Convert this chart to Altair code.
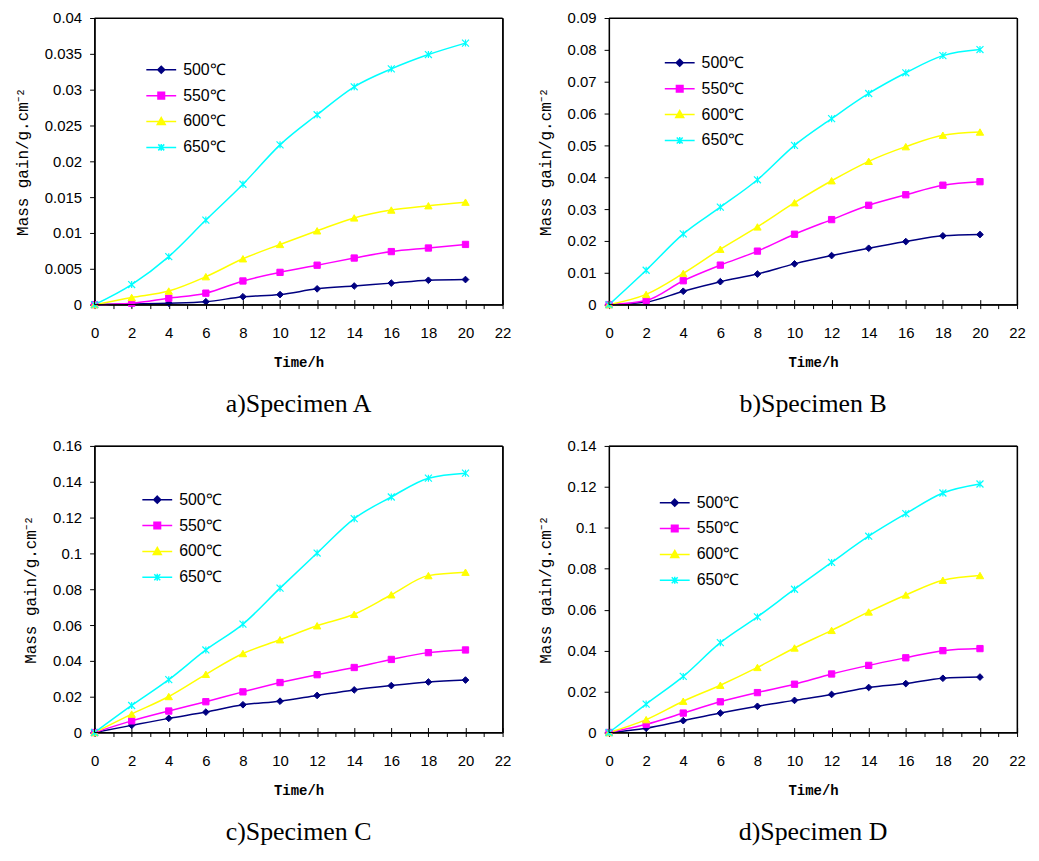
import altair as alt
import pandas as pd

hours = [0, 2, 4, 6, 8, 10, 12, 14, 16, 18, 20]
series = ["500℃", "550℃", "600℃", "650℃"]
colors = ["#000080", "#FF00FF", "#FFFF00", "#00FFFF"]

# Specimen A
a_500 = [0, 0.0001, 0.0002, 0.0004, 0.0011, 0.0014, 0.0022, 0.0026, 0.0030, 0.0034, 0.0035]
a_550 = [0, 0.0002, 0.0009, 0.0016, 0.0033, 0.0045, 0.0055, 0.0065, 0.0074, 0.0079, 0.0084]
a_600 = [0, 0.0010, 0.0019, 0.0039, 0.0064, 0.0084, 0.0103, 0.0121, 0.0132, 0.0138, 0.0143]
a_650 = [0, 0.0028, 0.0067, 0.0118, 0.0168, 0.0223, 0.0265, 0.0304, 0.0329, 0.0349, 0.0365]
# Specimen B
b_500 = [0, 0.0008, 0.0042, 0.0072, 0.0096, 0.0128, 0.0154, 0.0177, 0.0198, 0.0216, 0.0220]
b_550 = [0, 0.0013, 0.0075, 0.0124, 0.0168, 0.0221, 0.0267, 0.0312, 0.0345, 0.0375, 0.0386]
b_600 = [0, 0.0032, 0.0098, 0.0174, 0.0244, 0.0320, 0.0389, 0.0450, 0.0496, 0.0532, 0.0542]
b_650 = [0, 0.0108, 0.0222, 0.0306, 0.0392, 0.0500, 0.0584, 0.0663, 0.0728, 0.0782, 0.0801]
# Specimen C
c_500 = [0, 0.0040, 0.0079, 0.0114, 0.0155, 0.0175, 0.0207, 0.0238, 0.0262, 0.0282, 0.0293]
c_550 = [0, 0.0065, 0.0120, 0.0172, 0.0227, 0.0279, 0.0323, 0.0363, 0.0408, 0.0446, 0.0461]
c_600 = [0, 0.0103, 0.0201, 0.0325, 0.0441, 0.0518, 0.0596, 0.0660, 0.0769, 0.0876, 0.0895]
c_650 = [0, 0.0151, 0.0295, 0.0461, 0.0605, 0.0806, 0.1002, 0.1194, 0.1315, 0.1420, 0.1448]
# Specimen D
d_500 = [0, 0.0021, 0.0058, 0.0095, 0.0128, 0.0157, 0.0186, 0.0220, 0.0239, 0.0265, 0.0271]
d_550 = [0, 0.0040, 0.0095, 0.0150, 0.0195, 0.0236, 0.0286, 0.0328, 0.0365, 0.0400, 0.0410]
d_600 = [0, 0.0063, 0.0153, 0.0231, 0.0318, 0.0413, 0.0499, 0.0589, 0.0672, 0.0744, 0.0767]
d_650 = [0, 0.0139, 0.0274, 0.0439, 0.0565, 0.0700, 0.0831, 0.0959, 0.1069, 0.1170, 0.1214]

x_ticks = list(range(0, 23))
x_major = [0, 2, 4, 6, 8, 10, 12, 14, 16, 18, 20, 22]
a_ticks = [0, 0.005, 0.01, 0.015, 0.02, 0.025, 0.03, 0.035, 0.04]
b_ticks = [0, 0.01, 0.02, 0.03, 0.04, 0.05, 0.06, 0.07, 0.08, 0.09]
c_ticks = [0, 0.02, 0.04, 0.06, 0.08, 0.1, 0.12, 0.14, 0.16]
d_ticks = [0, 0.02, 0.04, 0.06, 0.08, 0.1, 0.12, 0.14]

titles = ["a)Specimen A", "b)Specimen B", "c)Specimen C", "d)Specimen D"]

W, H = 410, 288

point_shapes = ["diamond", "square", "triangle-up", "M-1,-1L1,1M-1,1L1,-1M0,-1L0,1"]
point_sizes = [45, 40, 55, 49]
point_filled = [True, True, True, False]
legend_paths = [
    "M-1.5,0L1.5,0M0,-0.35L0.35,0L0,0.35L-0.35,0Z",
    "M-1.5,0L1.5,0M-0.33,-0.33L0.33,-0.33L0.33,0.33L-0.33,0.33Z",
    "M-1.5,0L1.5,0M0,-0.4L0.4,0.3L-0.4,0.3Z",
    "M-1.5,0L1.5,0M-0.3,-0.3L0.3,0.3M-0.3,0.3L0.3,-0.3M0,-0.35L0,0.35",
]


def panel(vals, ymax, yticks, title, lx, ly):
    rows = []
    for s, v in zip(series, vals):
        for h, m in zip(hours, v):
            rows.append({"t": h, "m": m, "s": s})
    df = pd.DataFrame(rows)
    base = alt.Chart(df)
    xs = alt.Scale(domain=[0, 22], nice=False, zero=True)
    ys = alt.Scale(domain=[0, ymax], nice=False)

    x_axis = alt.Axis(
        values=x_ticks,
        labelExpr="datum.value % 2 == 0 ? datum.label : ''",
        title="Time/h",
        grid=False,
        tickSize=4,
        tickColor="black",
        domainColor="black",
        labelFont="Liberation Sans",
        labelFontSize=15,
        labelColor="black",
        labelPadding=17,
        labelFlush=False,
        labelOverlap=False,
        titleFont="Liberation Mono",
        titleFontSize=14,
        titleFontWeight="bold",
        titleColor="black",
        titlePadding=15,
    )
    y_axis = alt.Axis(
        values=yticks,
        format="~g",
        title="Mass gain/g.cm⁻²",
        grid=False,
        tickSize=5,
        tickColor="black",
        domainColor="black",
        labelFont="Liberation Sans",
        labelFontSize=15,
        labelColor="black",
        labelPadding=8,
        labelFlush=False,
        labelOverlap=False,
        titleFont="Liberation Mono",
        titleFontSize=16,
        titleFontWeight="normal",
        titleColor="black",
        titlePadding=14,
    )
    inside_axis = alt.Axis(
        orient="top",
        offset=-H,
        values=x_major,
        labels=False,
        domain=False,
        grid=False,
        tickSize=5,
        tickColor="black",
        title=None,
    )
    top_border = alt.Axis(orient="top", labels=False, ticks=False, grid=False,
                          domain=True, domainColor="black", title=None)
    right_border = alt.Axis(orient="right", labels=False, ticks=False, grid=False,
                            domain=True, domainColor="black", title=None)

    layers = []
    # one line per temperature
    for i, s in enumerate(series):
        xa = x_axis if i == 0 else (top_border if i == 1 else None)
        ya = y_axis if i == 0 else (right_border if i == 1 else None)
        layers.append(
            base.transform_filter(alt.datum.s == s)
            .mark_line(interpolate="monotone", strokeWidth=1.5, color=colors[i])
            .encode(
                x=alt.X("t:Q", scale=xs, axis=xa),
                y=alt.Y("m:Q", scale=ys, axis=ya),
            )
        )
    # markers
    for i, s in enumerate(series):
        if point_filled[i]:
            mk = base.transform_filter(alt.datum.s == s).mark_point(
                shape=point_shapes[i], size=point_sizes[i], filled=True,
                fill=colors[i], stroke=colors[i], strokeWidth=1, opacity=1)
        else:
            mk = base.transform_filter(alt.datum.s == s).mark_point(
                shape=point_shapes[i], size=point_sizes[i], filled=False,
                stroke=colors[i], strokeWidth=1.2, opacity=1)
        layers.append(mk.encode(
            x=alt.X("t:Q", scale=xs, axis=inside_axis if i == 0 else None),
            y=alt.Y("m:Q", scale=ys, axis=None),
        ))

    leg = alt.Legend(
        orient="none", legendX=lx, legendY=ly, title=None,
        symbolSize=400, labelOffset=11, rowPadding=7,
        symbolStrokeWidth=1.5, symbolOpacity=1,
        labelFont="Liberation Sans", labelFontSize=16, labelColor="black",
    )
    # legend-only layer: one row per series, placed below the plot and clipped away
    legend_layer = base.transform_filter(alt.datum.t == 0).transform_calculate(
        off="-1").mark_point(filled=True, strokeWidth=1.5, clip=True, opacity=1).encode(
        x=alt.X("t:Q", scale=xs, axis=None),
        y=alt.Y("off:Q", scale=ys, axis=None),
        fill=alt.Fill("s:N", scale=alt.Scale(domain=series, range=colors), legend=leg),
        stroke=alt.Stroke("s:N", scale=alt.Scale(domain=series, range=colors), legend=leg),
        shape=alt.Shape("s:N", scale=alt.Scale(domain=series, range=legend_paths), legend=leg),
    )
    layers.append(legend_layer)

    # plot frame drawn through the scales (full domain box)
    frame = base.transform_filter(
        (alt.datum.t == 0) & (alt.datum.s == series[0])
    ).mark_rect(filled=False, stroke="black", strokeWidth=1, fillOpacity=0).encode(
        x=alt.X(datum=0, scale=xs, axis=None),
        x2=alt.X2(datum=22),
        y=alt.Y(datum=0, scale=ys, axis=None),
        y2=alt.Y2(datum=ymax),
    )
    layers.append(frame)

    return alt.layer(*layers).resolve_axis(x="independent", y="independent").properties(
        width=W, height=H,
        view=alt.ViewBackground(stroke="black", strokeWidth=1),
        title=alt.TitleParams(text=title, orient="bottom", font="Liberation Serif",
                              fontSize=26, fontWeight="normal", color="black", offset=22),
    )


pa = panel([a_500, a_550, a_600, a_650], 0.04, a_ticks, titles[0], 56, 41)
pb = panel([b_500, b_550, b_600, b_650], 0.09, b_ticks, titles[1], 60, 34)
pc = panel([c_500, c_550, c_600, c_650], 0.16, c_ticks, titles[2], 52, 43)
pd_ = panel([d_500, d_550, d_600, d_650], 0.14, d_ticks, titles[3], 55, 46)

chart = alt.concat(pa, pb, pc, pd_, columns=2, spacing={"row": 20, "column": 25}).resolve_scale(
    fill="independent", stroke="independent", shape="independent"
).resolve_legend(
    fill="independent", stroke="independent", shape="independent"
).properties(
    padding={"left": 5, "top": 0, "right": 5, "bottom": 5}
).configure(
    background="white",
    view=alt.ViewConfig(stroke="black", strokeWidth=1),
)

chart.save("out.html", embed_options={"renderer": "svg", "actions": False})
